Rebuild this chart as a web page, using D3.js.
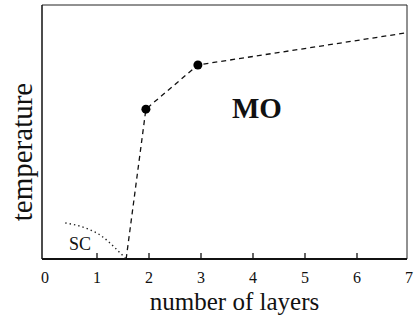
<!DOCTYPE html>
<html>
<head>
<meta charset="utf-8" />
<script src="https://cdn.jsdelivr.net/npm/d3@7"></script>
<style>
  body { margin: 0; background: #fff; }
  svg text { font-family: "Liberation Serif", "DejaVu Serif", serif; fill: #111; }
</style>
</head>
<body>
<div id="chart"></div>
<script>
// data (y in arbitrary temperature units)
const moLayers = [1.57, 1.95, 2.95, 6.95];
const moTemp   = [0, 5.9, 7.64, 8.9];
const dotLayers = [1.95, 2.95];
const dotTemp   = [5.9, 7.64];
const scLayers = [0.4, 0.84, 1.1, 1.35, 1.57];
const scTemp   = [1.42, 1.18, 0.9, 0.45, 0];
const xTicks = [0, 1, 2, 3, 4, 5, 6, 7];

const width = 416, height = 318;
const frameLeft = 42, frameRight = 407, frameTop = 5, frameBottom = 259;

const x = d3.scaleLinear().domain([0, 7]).range([44.5, 408.5]);
const y = d3.scaleLinear().domain([0, 10]).range([frameBottom, frameTop]);

const svg = d3.select("#chart").append("svg")
  .attr("width", width).attr("height", height);

// frame
svg.append("line").attr("x1", frameLeft).attr("x2", frameRight)
  .attr("y1", frameTop).attr("y2", frameTop).attr("stroke", "#222").attr("stroke-width", 1);
svg.append("line").attr("x1", frameRight).attr("x2", frameRight)
  .attr("y1", frameTop).attr("y2", frameBottom).attr("stroke", "#222").attr("stroke-width", 1);
svg.append("line").attr("x1", frameLeft).attr("x2", frameLeft)
  .attr("y1", frameTop).attr("y2", frameBottom).attr("stroke", "#111").attr("stroke-width", 1.5);

// x axis, ticks pointing inward
const xAxis = svg.append("g")
  .attr("transform", `translate(0,${frameBottom})`)
  .call(d3.axisBottom(x).tickValues(xTicks).tickFormat(d3.format("d"))
    .tickSize(-6).tickPadding(13).tickSizeOuter(0))
  .call(g => g.select(".domain").remove());
xAxis.selectAll(".tick line")
  .attr("stroke", "#111").attr("stroke-width", 1.3)
  .attr("display", d => (d === 0 || d === 7) ? "none" : null);
xAxis.selectAll(".tick text")
  .style("font-family", "'Liberation Serif', serif").attr("font-size", 16).attr("fill", "#111");
svg.append("line").attr("x1", frameLeft).attr("x2", frameRight)
  .attr("y1", frameBottom).attr("y2", frameBottom).attr("stroke", "#111").attr("stroke-width", 2);

// MO boundary (dashed)
const line = d3.line().x(d => x(d[0])).y(d => y(d[1]));
svg.append("path")
  .datum(d3.zip(moLayers, moTemp))
  .attr("fill", "none").attr("stroke", "#111").attr("stroke-width", 1.3)
  .attr("stroke-dasharray", "5,4")
  .attr("d", line);

// SC boundary (dotted)
svg.append("path")
  .datum(d3.zip(scLayers, scTemp))
  .attr("fill", "none").attr("stroke", "#222").attr("stroke-width", 1.4)
  .attr("stroke-dasharray", "1.4,3")
  .attr("d", line.curve(d3.curveMonotoneX));

// points
svg.selectAll("circle")
  .data(d3.zip(dotLayers, dotTemp))
  .join("circle")
  .attr("cx", d => x(d[0])).attr("cy", d => y(d[1]))
  .attr("r", 4.5).attr("fill", "#000");

// labels
svg.append("text").attr("x", 232).attr("y", 118)
  .attr("font-size", 29).attr("font-weight", "bold").text("MO");
svg.append("text").attr("x", 69).attr("y", 250)
  .attr("font-size", 18).text("SC");
svg.append("text").attr("x", 234.5).attr("y", 310)
  .attr("text-anchor", "middle").attr("font-size", 25).text("number of layers");
svg.append("text")
  .attr("transform", "translate(32,152) rotate(-90)")
  .attr("text-anchor", "middle").attr("font-size", 29).text("temperature");
</script>
</body>
</html>
